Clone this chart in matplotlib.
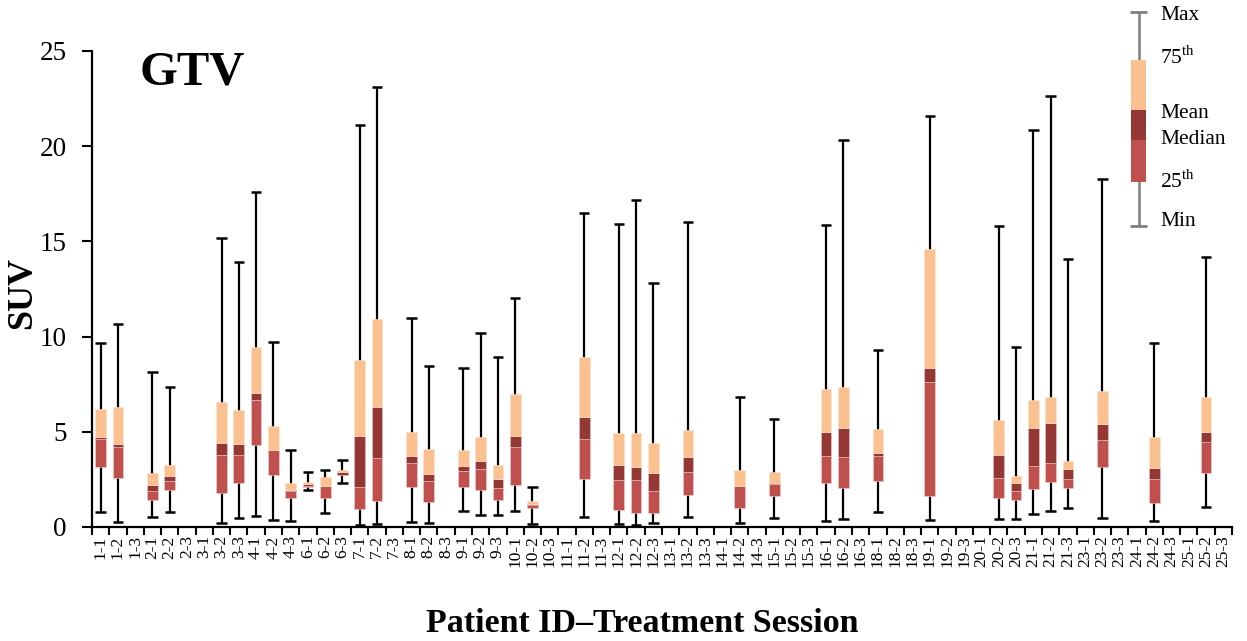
import numpy as np
import matplotlib
matplotlib.use('Agg')
import matplotlib.pyplot as plt

plt.rcParams['font.family'] = ['Liberation Serif', 'DejaVu Serif']
plt.rcParams['mathtext.fontset'] = 'custom'
plt.rcParams['mathtext.rm'] = 'Liberation Serif'

nan = np.nan

# patient-session labels
sessions = ['1-1', '1-2', '1-3', '2-1', '2-2', '2-3', '3-1', '3-2', '3-3',
            '4-1', '4-2', '4-3', '6-1', '6-2', '6-3', '7-1', '7-2', '7-3',
            '8-1', '8-2', '8-3', '9-1', '9-2', '9-3', '10-1', '10-2', '10-3',
            '11-1', '11-2', '11-3', '12-1', '12-2', '12-3', '13-1', '13-2', '13-3',
            '14-1', '14-2', '14-3', '15-1', '15-2', '15-3', '16-1', '16-2', '16-3',
            '18-1', '18-2', '18-3', '19-1', '19-2', '19-3', '20-1', '20-2', '20-3',
            '21-1', '21-2', '21-3', '23-1', '23-2', '23-3', '24-1', '24-2', '24-3',
            '25-1', '25-2', '25-3']

suv_max = [9.68, 10.65, nan, 8.14, 7.36, nan, nan, 15.2, 13.94,
           17.6, 9.72, 4.03, 2.87, 2.98, 3.52, 21.1, 23.1, nan,
           11.0, 8.44, nan, 8.35, 10.21, 8.93, 12.05, 2.10, nan,
           nan, 16.48, nan, 15.92, 17.15, 12.84, nan, 16.0, nan,
           nan, 6.83, nan, 5.69, nan, nan, 15.87, 20.35, nan,
           9.3, nan, nan, 21.61, nan, nan, nan, 15.83, 9.46,
           20.84, 22.63, 14.08, nan, 18.3, nan, nan, 9.68, nan,
           nan, 14.2, nan]
suv_q3 = [6.2, 6.29, nan, 2.84, 3.24, nan, nan, 6.55, 6.13,
          9.44, 5.29, 2.31, 2.35, 2.64, 2.99, 8.76, 10.95, nan,
          4.97, 4.08, nan, 4.03, 4.73, 3.27, 6.99, 1.35, nan,
          nan, 8.93, nan, 4.96, 4.96, 4.41, nan, 5.1, nan,
          nan, 3.01, nan, 2.89, nan, nan, 7.25, 7.34, nan,
          5.15, nan, nan, 14.62, nan, nan, nan, 5.64, 2.70,
          6.69, 6.83, 3.47, nan, 7.13, nan, nan, 4.71, nan,
          nan, 6.83, nan]
suv_mean = [4.73, 4.36, nan, 2.21, 2.68, nan, nan, 4.43, 4.38,
            7.04, 4.06, 1.96, 2.26, 2.17, 2.87, 4.76, 6.29, nan,
            3.71, 2.77, nan, 3.2, 3.47, 2.5, 4.80, 1.23, nan,
            nan, 5.78, nan, 3.26, 3.17, 2.82, nan, 3.70, nan,
            nan, 2.17, nan, 2.33, nan, nan, 5.01, 5.22, nan,
            3.91, nan, nan, 8.35, nan, nan, nan, 3.77, 2.29,
            5.22, 5.46, 3.05, nan, 5.39, nan, nan, 3.08, nan,
            nan, 5.01, nan]
suv_median = [4.6, 4.19, nan, 1.89, 2.43, nan, nan, 3.80, 3.80,
              6.65, 4.03, 1.91, 2.14, 2.14, 2.73, 2.10, 3.63, nan,
              3.38, 2.42, nan, 2.96, 3.05, 2.03, 4.2, 1.16, nan,
              nan, 4.62, nan, 2.49, 2.45, 1.87, nan, 2.87, nan,
              nan, 2.15, nan, 2.24, nan, nan, 3.73, 3.68, nan,
              3.73, nan, nan, 7.62, nan, nan, nan, 2.57, 1.89,
              3.2, 3.35, 2.54, nan, 4.57, nan, nan, 2.52, nan,
              nan, 4.45, nan]
suv_q1 = [3.13, 2.59, nan, 1.44, 1.94, nan, nan, 1.77, 2.29,
          4.29, 2.73, 1.54, 2.1, 1.51, 2.71, 0.95, 1.35, nan,
          2.12, 1.30, nan, 2.12, 1.96, 1.42, 2.21, 1.02, nan,
          nan, 2.52, nan, 0.88, 0.72, 0.72, nan, 1.68, nan,
          nan, 1.0, nan, 1.65, nan, nan, 2.29, 2.07, nan,
          2.43, nan, nan, 1.65, nan, nan, nan, 1.54, 1.4,
          2.0, 2.36, 2.07, nan, 3.13, nan, nan, 1.26, nan,
          nan, 2.84, nan]
suv_min = [0.81, 0.26, nan, 0.54, 0.77, nan, nan, 0.19, 0.49,
           0.6, 0.37, 0.32, 1.93, 0.75, 2.29, 0.12, 0.18, nan,
           0.28, 0.23, nan, 0.82, 0.61, 0.63, 0.84, 0.18, nan,
           nan, 0.51, nan, 0.14, 0.11, 0.23, nan, 0.54, nan,
           nan, 0.23, nan, 0.47, nan, nan, 0.32, 0.4, nan,
           0.77, nan, nan, 0.35, nan, nan, nan, 0.44, 0.44,
           0.67, 0.82, 1.02, nan, 0.49, nan, nan, 0.32, nan,
           nan, 1.07, nan]

C_LOW = '#c0504d'
C_MID = '#953735'
C_HIGH = '#fac090'

x = np.arange(len(sessions))
vmax = np.array(suv_max); q3 = np.array(suv_q3); mean = np.array(suv_mean)
med = np.array(suv_median); q1 = np.array(suv_q1); vmin = np.array(suv_min)

fig = plt.figure(figsize=(12.47, 6.41), dpi=100)
ax = fig.add_axes([92/1247, 1-527/641, 1140/1247, 476/641])

# whiskers
ok = ~np.isnan(vmax)
ax.vlines(x[ok], vmin[ok], vmax[ok], color='black', lw=1.6, zorder=1)
ax.hlines(vmax[ok], x[ok]-0.3, x[ok]+0.3, color='black', lw=1.8, zorder=1)
ax.hlines(vmin[ok], x[ok]-0.3, x[ok]+0.3, color='black', lw=1.8, zorder=1)

# boxes: 25th-median, median-mean, mean-75th
w = 0.62
ax.bar(x[ok], (med-q1)[ok], bottom=q1[ok], width=w, color=C_LOW,
       edgecolor='#f2d0cf', lw=0.4, zorder=2)
ax.bar(x[ok], (mean-med)[ok], bottom=med[ok], width=w, color=C_MID,
       edgecolor='#e8c6c5', lw=0.4, zorder=2)
ax.bar(x[ok], (q3-mean)[ok], bottom=mean[ok], width=w, color=C_HIGH,
       edgecolor='#fde6d2', lw=0.4, zorder=2)

ax.set_xlim(-0.5, len(sessions)-0.5)
ax.set_ylim(0, 25)
ax.set_yticks([0, 5, 10, 15, 20, 25])
ax.tick_params(axis='y', labelsize=19.5, direction='out', length=7, width=1.5, pad=11)
ax.set_xticks(x)
ax.set_xticklabels(sessions, rotation=90, fontsize=12.5)
ax.tick_params(axis='x', which='major', length=0, pad=6)
ax.set_xticks(np.arange(-0.5, len(sessions)), minor=True)
ax.tick_params(axis='x', which='minor', direction='out', length=6, width=1.5)
for s in ('top', 'right'):
    ax.spines[s].set_visible(False)
ax.spines['left'].set_linewidth(1.6)
ax.spines['bottom'].set_linewidth(1.6)

fig.text(23/1247, 1-293/641, 'SUV', fontsize=26, fontweight='bold',
         rotation=90, ha='center', va='center')
fig.text(642/1247, 9/641, 'Patient ID\u2013Treatment Session', fontsize=24.5,
         fontweight='bold', ha='center', va='baseline')
ax.text(0.042, 23.25, 'GTV', fontsize=35, fontweight='bold', ha='left',
        va='baseline', transform=ax.get_yaxis_transform())

# custom legend drawn in pixel space (top right)
lg = fig.add_axes([1110/1247, 1-240/641, 137/1247, 240/641])
lg.set_xlim(1110, 1247)
lg.set_ylim(240, 0)
lg.axis('off')
lg.vlines(1138.5, 12, 226, color='#7f7f7f', lw=1.8, zorder=1)
lg.hlines([12, 226], 1130, 1147, color='#7f7f7f', lw=2, zorder=1)
lg.bar(1138.5, 50, bottom=60, width=15, color=C_HIGH, zorder=2)
lg.bar(1138.5, 30, bottom=110, width=15, color=C_MID, zorder=2)
lg.bar(1138.5, 42, bottom=140, width=15, color=C_LOW, zorder=2)
leg_labels = [('Max', 16), (r'75$^{\rm th}$', 58), ('Mean', 113),
              ('Median', 140), (r'25$^{\rm th}$', 182), ('Min', 222)]
for txt, yy in leg_labels:
    lg.text(1160, yy, txt, fontsize=15.5, ha='left', va='center')

fig.savefig('out.png', dpi=100)
